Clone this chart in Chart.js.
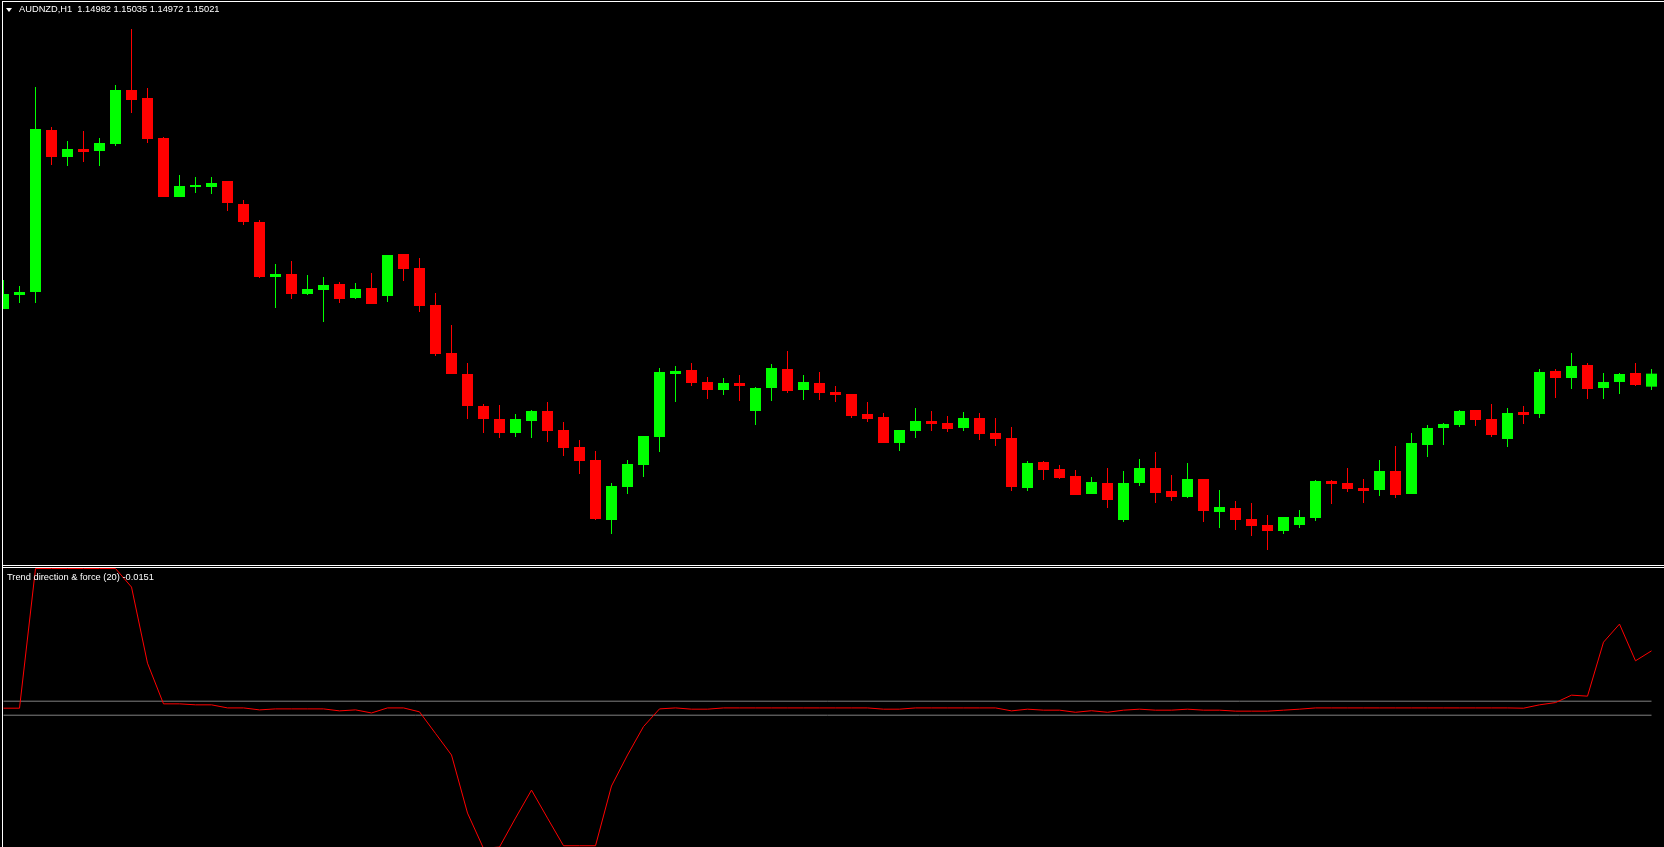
<!DOCTYPE html>
<html>
<head>
<meta charset="utf-8">
<title>AUDNZD,H1 - Trend direction & force</title>
<script src="https://cdn.jsdelivr.net/npm/chart.js@4.4.1/dist/chart.umd.min.js"></script>
<style>
    body { margin: 0; background: #000; }
    #terminal { position: relative; width: 1664px; height: 847px; background: #000; overflow: hidden; font-family: "Liberation Sans", Arial, sans-serif; }
    #priceBox { position: absolute; left: 3px; top: 2px; width: 1661px; height: 563px; }
    #trendBox { position: absolute; left: 3px; top: 568px; width: 1661px; height: 279px; }
    .frame { position: absolute; background: #fff; }
    .caption { position: absolute; color: #fff; font-size: 9.3px; line-height: 12px; white-space: pre; }
    #arrow { position: absolute; left: 6px; top: 8px; width: 0; height: 0; border-left: 3px solid transparent; border-right: 3px solid transparent; border-top: 4px solid #fff; }
</style>
</head>
<body>
<div id="terminal">
    <div id="priceBox"><canvas id="priceChart" width="1661" height="563"></canvas></div>
    <div id="trendBox"><canvas id="trendChart" width="1661" height="279"></canvas></div>

    <div class="frame" style="left:2px;top:1px;width:1662px;height:1px"></div>
    <div class="frame" style="left:2px;top:1px;width:1px;height:846px"></div>
    <div class="frame" style="left:2px;top:565px;width:1662px;height:1px"></div>
    <div class="frame" style="left:2px;top:567px;width:1662px;height:1px"></div>

    <div id="arrow"></div>
    <div class="caption" id="symbolCaption" style="left:19px;top:3px"></div>
    <div class="caption" id="trendCaption" style="left:7px;top:571px"></div>
</div>

<script>
// AUDNZD H1 bars, oldest first
var open = [
    1.15215, 1.15257, 1.15266, 1.15752, 1.15671, 1.15695, 1.15689, 1.15710, 1.15872, 1.15848,
    1.15728, 1.15551, 1.15581, 1.15581, 1.15599, 1.15530, 1.15476, 1.15311, 1.15320, 1.15260,
    1.15272, 1.15290, 1.15248, 1.15278, 1.15254, 1.15380, 1.15338, 1.15227, 1.15083, 1.15020,
    1.14924, 1.14885, 1.14843, 1.14879, 1.14909, 1.14852, 1.14801, 1.14762, 1.14582, 1.14681,
    1.14747, 1.14831, 1.15020, 1.15032, 1.14996, 1.14972, 1.14993, 1.14909, 1.14978, 1.15035,
    1.14972, 1.14993, 1.14966, 1.14960, 1.14900, 1.14891, 1.14813, 1.14849, 1.14879, 1.14873,
    1.14858, 1.14888, 1.14843, 1.14828, 1.14678, 1.14756, 1.14735, 1.14714, 1.14660, 1.14693,
    1.14582, 1.14693, 1.14738, 1.14669, 1.14651, 1.14705, 1.14606, 1.14618, 1.14585, 1.14567,
    1.14549, 1.14567, 1.14588, 1.14699, 1.14693, 1.14678, 1.14672, 1.14729, 1.14660, 1.14807,
    1.14858, 1.14867, 1.14912, 1.14885, 1.14825, 1.14906, 1.14900, 1.15029, 1.15008, 1.15047,
    1.14978, 1.14996, 1.15023, 1.14982
];
var high = [
    1.15302, 1.15284, 1.15881, 1.15761, 1.15719, 1.15749, 1.15728, 1.15887, 1.16055, 1.15878,
    1.15731, 1.15617, 1.15611, 1.15611, 1.15599, 1.15542, 1.15482, 1.15350, 1.15359, 1.15317,
    1.15311, 1.15296, 1.15293, 1.15323, 1.15377, 1.15380, 1.15368, 1.15263, 1.15167, 1.15053,
    1.14930, 1.14927, 1.14900, 1.14912, 1.14936, 1.14876, 1.14822, 1.14789, 1.14693, 1.14762,
    1.14834, 1.15038, 1.15044, 1.15053, 1.15011, 1.15008, 1.15017, 1.14981, 1.15050, 1.15089,
    1.15017, 1.15026, 1.14984, 1.14960, 1.14936, 1.14903, 1.14852, 1.14918, 1.14909, 1.14894,
    1.14906, 1.14903, 1.14888, 1.14861, 1.14759, 1.14759, 1.14747, 1.14732, 1.14711, 1.14738,
    1.14729, 1.14765, 1.14786, 1.14717, 1.14753, 1.14705, 1.14672, 1.14639, 1.14633, 1.14597,
    1.14591, 1.14612, 1.14702, 1.14702, 1.14738, 1.14705, 1.14762, 1.14804, 1.14843, 1.14867,
    1.14873, 1.14912, 1.14912, 1.14930, 1.14918, 1.14924, 1.15035, 1.15035, 1.15083, 1.15053,
    1.15023, 1.15023, 1.15053, 1.15035
];
var low = [
    1.15215, 1.15233, 1.15233, 1.15647, 1.15644, 1.15656, 1.15644, 1.15704, 1.15803, 1.15713,
    1.15551, 1.15551, 1.15563, 1.15560, 1.15509, 1.15467, 1.15308, 1.15218, 1.15245, 1.15257,
    1.15176, 1.15233, 1.15245, 1.15230, 1.15236, 1.15299, 1.15206, 1.15074, 1.15020, 1.14885,
    1.14843, 1.14828, 1.14831, 1.14828, 1.14816, 1.14774, 1.14720, 1.14582, 1.14540, 1.14660,
    1.14711, 1.14786, 1.14936, 1.14984, 1.14945, 1.14957, 1.14939, 1.14867, 1.14939, 1.14963,
    1.14942, 1.14942, 1.14936, 1.14888, 1.14876, 1.14813, 1.14789, 1.14828, 1.14849, 1.14846,
    1.14849, 1.14822, 1.14804, 1.14669, 1.14669, 1.14702, 1.14705, 1.14657, 1.14660, 1.14618,
    1.14576, 1.14684, 1.14633, 1.14639, 1.14648, 1.14576, 1.14558, 1.14552, 1.14534, 1.14492,
    1.14540, 1.14558, 1.14579, 1.14630, 1.14666, 1.14633, 1.14654, 1.14648, 1.14660, 1.14771,
    1.14807, 1.14861, 1.14864, 1.14831, 1.14801, 1.14870, 1.14888, 1.14948, 1.14975, 1.14945,
    1.14945, 1.14960, 1.14984, 1.14972
];
var close = [
    1.15260, 1.15266, 1.15755, 1.15671, 1.15695, 1.15686, 1.15713, 1.15872, 1.15842, 1.15725,
    1.15551, 1.15584, 1.15587, 1.15593, 1.15533, 1.15476, 1.15311, 1.15320, 1.15260, 1.15275,
    1.15287, 1.15245, 1.15275, 1.15230, 1.15377, 1.15335, 1.15224, 1.15080, 1.15020, 1.14924,
    1.14885, 1.14843, 1.14885, 1.14909, 1.14849, 1.14798, 1.14759, 1.14585, 1.14684, 1.14750,
    1.14834, 1.15026, 1.15029, 1.14993, 1.14972, 1.14993, 1.14984, 1.14978, 1.15038, 1.14969,
    1.14996, 1.14963, 1.14957, 1.14894, 1.14885, 1.14813, 1.14852, 1.14879, 1.14870, 1.14855,
    1.14888, 1.14840, 1.14825, 1.14681, 1.14753, 1.14732, 1.14708, 1.14657, 1.14696, 1.14642,
    1.14693, 1.14738, 1.14663, 1.14651, 1.14705, 1.14609, 1.14621, 1.14582, 1.14564, 1.14549,
    1.14591, 1.14591, 1.14699, 1.14690, 1.14675, 1.14669, 1.14729, 1.14657, 1.14813, 1.14858,
    1.14870, 1.14909, 1.14882, 1.14837, 1.14903, 1.14897, 1.15026, 1.15008, 1.15044, 1.14975,
    1.14996, 1.15020, 1.14987, 1.15021
];

// Trend direction & force (20), one value per bar
var trend = [
    0, 0, 0.996, 0.996, 0.996, 0.996, 0.996, 0.996, 0.864, 0.321,
    0.031, 0.031, 0.024, 0.024, 0.002, 0.002, -0.012, -0.005, -0.005, -0.005,
    -0.005, -0.019, -0.012, -0.034, 0.002, 0.002, -0.026, -0.18, -0.334, -0.748,
    -1.0, -0.99, -0.784, -0.584, -0.784, -0.981, -0.981, -0.981, -0.555, -0.334,
    -0.131, -0.005, 0.002, -0.007, -0.007, 0.002, 0.002, 0.002, 0.002, 0.002,
    0.002, 0.002, 0.002, 0.002, 0.002, -0.007, -0.007, 0.002, 0.002, 0.002,
    0.002, 0.002, 0.002, -0.019, -0.007, -0.014, -0.014, -0.029, -0.018, -0.029,
    -0.014, -0.007, -0.014, -0.014, -0.007, -0.014, -0.014, -0.021, -0.021, -0.021,
    -0.014, -0.007, 0.002, 0.002, 0.002, 0.002, 0.002, 0.002, 0.002, 0.002,
    0.002, 0.002, 0.002, 0.002, 0.002, 0, 0.024, 0.04, 0.093, 0.086,
    0.471, 0.6, 0.338, 0.409
];
var trendLevels = [0.05, -0.05];

var symbol = 'AUDNZD,H1';
var indicatorName = 'Trend direction & force (20)';
var indicatorValue = '-0.0151';

var upColor = '#00ff00';
var downColor = '#ff0000';

// visible window: bar 0 sits half a pixel into the plot, 16px per bar
var firstBar = -0.03125;
var lastBar = 103.78125;

function barColors() {
    var colors = [];
    for (var i = 0; i < open.length; i++) {
        colors.push(close[i] > open[i] ? upColor : downColor);
    }
    return colors;
}

function createPriceChart() {
    var wicks = [];
    var bodies = [];
    for (var i = 0; i < open.length; i++) {
        wicks.push({ x: i, y: [low[i], high[i]] });
        bodies.push({ x: i, y: [open[i], close[i]] });
    }
    var colors = barColors();

    var ctx = document.getElementById('priceChart').getContext('2d');
    return new Chart(ctx, {
        type: 'bar',
        data: {
            datasets: [
                {
                    label: 'Bodies',
                    data: bodies,
                    backgroundColor: colors,
                    barThickness: 11,
                    grouped: false,
                    borderWidth: 0,
                    inflateAmount: 0
                },
                {
                    label: 'Shadows',
                    data: wicks,
                    backgroundColor: colors,
                    barThickness: 1,
                    grouped: false,
                    borderWidth: 0,
                    inflateAmount: 0
                }
            ]
        },
        options: {
            responsive: false,
            animation: false,
            devicePixelRatio: 1,
            events: [],
            layout: { padding: 0 },
            plugins: {
                legend: { display: false },
                tooltip: { enabled: false }
            },
            scales: {
                x: { type: 'linear', display: false, offset: false, min: firstBar, max: lastBar },
                y: { type: 'linear', display: false, min: 1.14447, max: 1.16136 }
            }
        }
    });
}

function createTrendChart() {
    var points = [];
    for (var i = 0; i < trend.length; i++) {
        points.push({ x: i, y: trend[i] });
    }
    var last = trend.length - 1;
    var datasets = [
        {
            label: indicatorName,
            data: points,
            borderColor: '#ff0000',
            borderWidth: 1,
            pointRadius: 0,
            tension: 0,
            fill: false
        }
    ];
    trendLevels.forEach(function(level) {
        datasets.push({
            label: 'Level ' + level,
            data: [{ x: 0, y: level }, { x: last, y: level }],
            borderColor: '#808080',
            borderWidth: 1,
            pointRadius: 0,
            tension: 0,
            fill: false
        });
    });

    var ctx = document.getElementById('trendChart').getContext('2d');
    return new Chart(ctx, {
        type: 'line',
        data: { datasets: datasets },
        options: {
            responsive: false,
            animation: false,
            devicePixelRatio: 1,
            events: [],
            layout: { padding: 0 },
            plugins: {
                legend: { display: false },
                tooltip: { enabled: false }
            },
            scales: {
                x: { type: 'linear', display: false, offset: false, min: firstBar, max: lastBar },
                y: { type: 'linear', display: false, min: -0.99, max: 1.0 }
            }
        }
    });
}

function fillCaptions() {
    var n = open.length - 1;
    document.getElementById('symbolCaption').textContent =
        symbol + '  ' + open[n].toFixed(5) + ' ' + high[n].toFixed(5) + ' ' + low[n].toFixed(5) + ' ' + close[n].toFixed(5);
    document.getElementById('trendCaption').textContent = indicatorName + ' ' + indicatorValue;
}

fillCaptions();
createPriceChart();
createTrendChart();
</script>
</body>
</html>
